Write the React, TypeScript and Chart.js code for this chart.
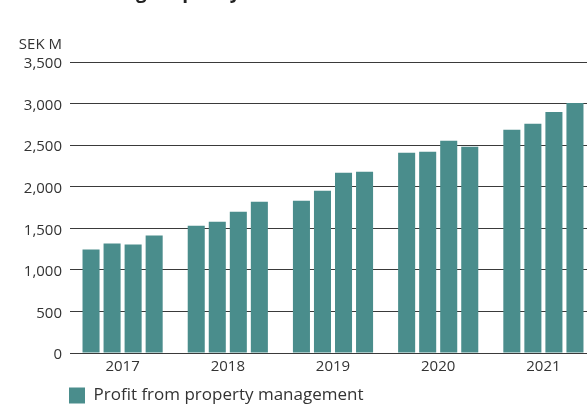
import React, { useEffect, useRef } from "react";
import { Chart, registerables } from "chart.js";

Chart.register(...registerables);

const years = ["2017", "2018", "2019", "2020", "2021"];
const q1 = [1244, 1532, 1832, 2408, 2684];
const q2 = [1316, 1580, 1952, 2420, 2756];
const q3 = [1304, 1700, 2168, 2552, 2900];
const q4 = [1412, 1820, 2180, 2480, 3008];
const yTicks = [0, 500, 1000, 1500, 2000, 2500, 3000, 3500];
const seriesLabel = "Profit from property management";
const unitLabel = "SEK M";
const titleText = "Earnings capacity";

const BAR = "#4a8d8c";
const TEXT = "#333333";
const FONT = "'Open Sans', 'Noto Sans', sans-serif";

const annotations = {
  id: "annotations",
  afterLayout(chart: any) {
    const lg = chart.legend;
    if (lg) {
      lg.left += 59;
      lg.right += 59;
    }
  },
  afterDraw(chart: any) {
    const ctx = chart.ctx;
    const y = chart.scales.y;
    ctx.save();
    ctx.fillStyle = TEXT;
    ctx.font = `15px ${FONT}`;
    ctx.textAlign = "right";
    ctx.textBaseline = "middle";
    ctx.fillText(unitLabel, 62, y.getPixelForValue(3500) - 17);
    // title sits above the visible page; only its descenders show
    ctx.fillStyle = "#222";
    ctx.font = `bold 19px ${FONT}`;
    ctx.textAlign = "left";
    ctx.textBaseline = "alphabetic";
    const pre = ctx.measureText("Earnin").width;
    ctx.fillText(titleText, 136 - pre, -2);
    ctx.restore();
  },
};

export default function App() {
  const ref = useRef<HTMLCanvasElement>(null);
  useEffect(() => {
    const mk = (label: string, data: number[]) => ({
      label,
      data,
      backgroundColor: BAR,
      borderWidth: 0,
      categoryPercentage: 0.8,
      barPercentage: 0.81,
    });
    const chart = new Chart(ref.current!, {
      type: "bar",
      data: {
        labels: years,
        datasets: [
          mk(seriesLabel, q1),
          mk("Q2", q2),
          mk("Q3", q3),
          mk("Q4", q4),
        ],
      },
      options: {
        animation: false,
        responsive: false,
        maintainAspectRatio: false,
        layout: { padding: { top: 62, left: 0, right: 4, bottom: 0 } },
        plugins: {
          title: { display: false },
          tooltip: { enabled: false },
          legend: {
            position: "bottom",
            align: "start",
            labels: {
              filter: (item: any) => item.datasetIndex === 0,
              boxWidth: 16,
              boxHeight: 16,
              padding: 10,
              color: TEXT,
              font: { size: 17, family: FONT },
            },
          },
        },
        scales: {
          x: {
            grid: { display: false, drawTicks: false },
            border: { display: false },
            ticks: { color: TEXT, font: { size: 15, family: FONT }, padding: 5 },
            afterFit: (s: any) => {
              s.height = 24;
            },
          },
          y: {
            min: 0,
            max: 3500,
            afterBuildTicks: (s: any) => {
              s.ticks = yTicks.map((v) => ({ value: v }));
            },
            grid: { color: "#3a3a3a", lineWidth: 1, drawTicks: false },
            border: { display: false },
            ticks: {
              color: TEXT,
              font: { size: 15, family: FONT },
              padding: 8,
              labelOffset: 2,
              callback: (v: any) => Number(v).toLocaleString("en-US"),
            },
            afterFit: (s: any) => {
              s.width = 70;
            },
          },
        },
      },
      plugins: [annotations],
    });
    return () => chart.destroy();
  }, []);
  return (
    <div
      style={{
        position: "fixed",
        left: 0,
        top: 0,
        width: 587,
        height: 405,
        overflow: "hidden",
        background: "#fff",
      }}
    >
      <canvas ref={ref} width={600} height={414} style={{ display: "block" }} />
    </div>
  );
}
